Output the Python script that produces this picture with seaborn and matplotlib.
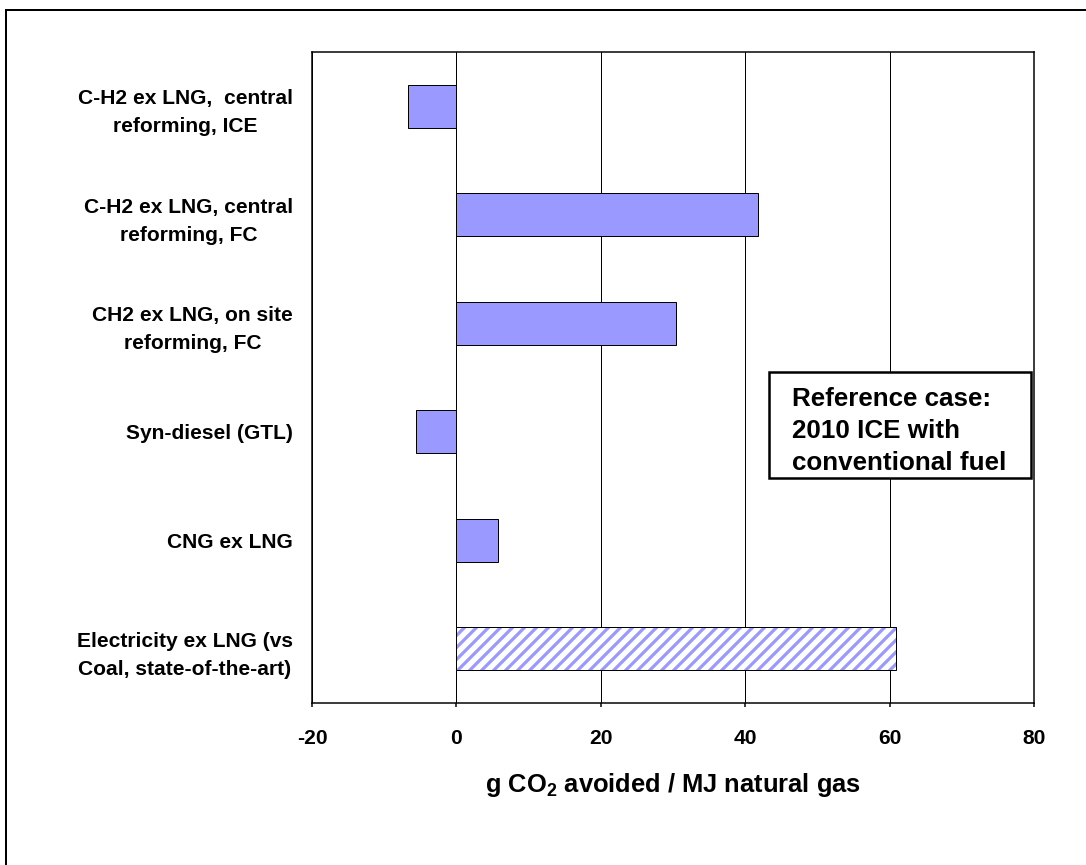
import seaborn as sns
import pandas as pd
import matplotlib.pyplot as plt
from matplotlib.patches import Rectangle

# g CO2 avoided per MJ natural gas
pathways = [
    "C-H2 ex LNG,  central\nreforming, ICE",
    "C-H2 ex LNG, central\nreforming, FC",
    "CH2 ex LNG, on site\nreforming, FC",
    "Syn-diesel (GTL)",
    "CNG ex LNG",
    "Electricity ex LNG (vs\nCoal, state-of-the-art)",
]
avoided = [-6.7, 41.8, 30.4, -5.6, 5.8, 60.9]
x_ticks = [-20, 0, 20, 40, 60, 80]
note = "Reference case:\n2010 ICE with\nconventional fuel"

data = pd.DataFrame({"Pathway": pathways, "Avoided": avoided})

sns.set_theme()
sns.set_style("white")
plt.rcParams["font.family"] = ["Liberation Sans", "DejaVu Sans"]
plt.rcParams["font.weight"] = "bold"
plt.rcParams["text.color"] = "black"
plt.rcParams["xtick.color"] = "black"
plt.rcParams["ytick.color"] = "black"
plt.rcParams["axes.labelcolor"] = "black"
plt.rcParams["mathtext.fontset"] = "custom"
plt.rcParams["mathtext.rm"] = "Liberation Sans:bold"
plt.rcParams["mathtext.default"] = "rm"
plt.rcParams["hatch.linewidth"] = 3.2

fig = plt.figure(figsize=(1086 / 72, 865 / 72), dpi=72)
ax = fig.add_axes([0.2873, 0.1873, 0.6648, 0.7526])

sns.barplot(
    data=data,
    x="Avoided",
    y="Pathway",
    orient="h",
    color="#9999FF",
    saturation=1,
    edgecolor="black",
    linewidth=1,
    width=0.4,
    ax=ax,
)

# last bar: hatched stripes, blue on white
last = ax.patches[-1]
last.set_facecolor("white")
last.set_edgecolor("#9999FF")
last.set_hatch("//")
ax.add_patch(Rectangle(last.get_xy(), last.get_width(), last.get_height(),
                       fill=False, edgecolor="black", linewidth=1, zorder=3))

ax.set_xlim(-20, 80)
ax.set_xticks(x_ticks)
ax.set_xticklabels([str(t) for t in x_ticks], fontsize=21, fontweight="bold")
for lab in ax.get_yticklabels():
    lab.set_fontsize(21)
    lab.set_fontweight("bold")
    lab.set_multialignment("center")
    lab.set_linespacing(1.6)

ax.xaxis.grid(True, color="black", linewidth=1)
ax.yaxis.grid(False)
ax.set_axisbelow(True)
for s in ax.spines.values():
    s.set_visible(True)
    s.set_color("black")
    s.set_linewidth(1.5)
ax.tick_params(axis="x", bottom=True, length=4, width=1.5, color="black", pad=22)
ax.tick_params(axis="y", left=False, length=0, pad=19)

ax.set_ylabel("")
ax.set_xlabel("g CO$_2$ avoided / MJ natural gas", fontsize=25.5, fontweight="bold", labelpad=23)

# note box
fig.add_artist(Rectangle((769 / 1086, 1 - 478 / 865), 262 / 1086, 106 / 865,
                         transform=fig.transFigure, fill=True, facecolor="white",
                         edgecolor="black", linewidth=2.5, zorder=5))
fig.text(792 / 1086, 1 - 431 / 865, note, fontsize=26, fontweight="bold",
         va="center", ha="left", linespacing=1.42, zorder=6)

# outer frame (cut off at right and bottom)
fig.add_artist(Rectangle((6 / 1086, -0.1), 1.2, 1.1 - 10 / 865,
                         transform=fig.transFigure, fill=False,
                         edgecolor="black", linewidth=2))

fig.savefig("out.png", dpi=72, facecolor="white")
